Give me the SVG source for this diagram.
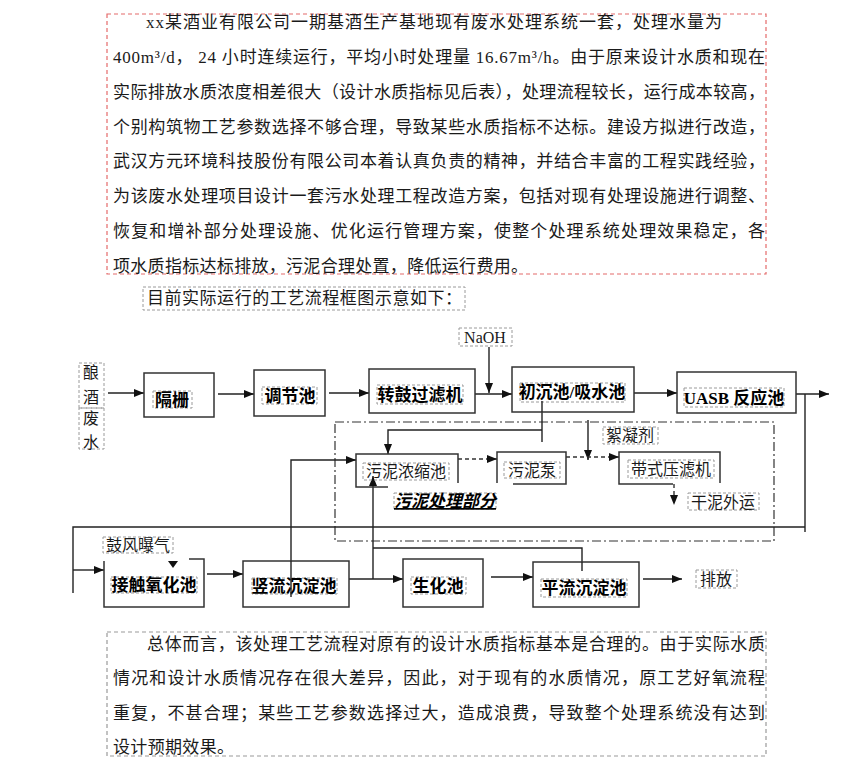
<svg xmlns="http://www.w3.org/2000/svg" width="841" height="761" viewBox="0 0 841 761">
<style>
.bg{fill:#fff}
.body{font-family:"Liberation Serif","Noto Sans CJK SC",serif;font-size:17px;fill:#1a1a1a}
.lbl{font-family:"Liberation Serif","Noto Sans CJK SC",serif;font-size:16px;fill:#1a1a1a;text-anchor:middle}
.nb{font-family:"Liberation Serif","Noto Sans CJK SC",serif;font-size:17px;font-weight:bold;fill:#000;text-anchor:middle}
.box{fill:#fff;stroke:#333;stroke-width:1.5}
.edge{fill:none;stroke:#333;stroke-width:1.5}
.tb{fill:none;stroke:#9a9a9a;stroke-width:1;stroke-dasharray:3,2}
.red{fill:none;stroke:#e46a6a;stroke-width:1.2;stroke-dasharray:4,3}
.gray{fill:none;stroke:#9a9a9a;stroke-width:1.2;stroke-dasharray:4,3}
.ln{fill:none;stroke:#222;stroke-width:1.4}
.arr{fill:none;stroke:#222;stroke-width:1.4;marker-end:url(#ah)}
.darr{fill:none;stroke:#333;stroke-width:1.4;stroke-dasharray:4,3;marker-end:url(#ah)}
.dd{fill:none;stroke:#333;stroke-width:1.2;stroke-dasharray:9,3,2,3}
</style>
<defs>
<marker id="ah" viewBox="0 0 10 10" refX="10" refY="5" markerWidth="10" markerHeight="10" markerUnits="userSpaceOnUse" orient="auto"><path d="M0,1 L10,5 L0,9 z" fill="#111"/></marker>
</defs>
<rect class="bg" x="0" y="0" width="841" height="761"/>

<g id="intro">
<rect class="red" x="107" y="14" width="659" height="260"/>
<text class="body" x="146" y="28" textLength="576" lengthAdjust="spacing">xx某酒业有限公司一期基酒生产基地现有废水处理系统一套，处理水量为</text>
<text class="body" x="113" y="63" textLength="652" lengthAdjust="spacing">400m³/d， 24 小时连续运行，平均小时处理量 16.67m³/h。由于原来设计水质和现在</text>
<text class="body" x="113" y="98" textLength="652" lengthAdjust="spacing">实际排放水质浓度相差很大（设计水质指标见后表），处理流程较长，运行成本较高，</text>
<text class="body" x="113" y="133" textLength="652" lengthAdjust="spacing">个别构筑物工艺参数选择不够合理，导致某些水质指标不达标。建设方拟进行改造，</text>
<text class="body" x="113" y="167" textLength="652" lengthAdjust="spacing">武汉方元环境科技股份有限公司本着认真负责的精神，并结合丰富的工程实践经验，</text>
<text class="body" x="113" y="202" textLength="652" lengthAdjust="spacing">为该废水处理项目设计一套污水处理工程改造方案，包括对现有处理设施进行调整、</text>
<text class="body" x="113" y="237" textLength="652" lengthAdjust="spacing">恢复和增补部分处理设施、优化运行管理方案，使整个处理系统处理效果稳定，各</text>
<text class="body" x="113" y="272" textLength="415" lengthAdjust="spacing">项水质指标达标排放，污泥合理处置，降低运行费用。</text>
</g>

<g id="caption">
<rect class="tb" x="143" y="287" width="322" height="23"/>
<text class="body" x="147" y="304" textLength="315" lengthAdjust="spacing">目前实际运行的工艺流程框图示意如下：</text>
</g>

<g id="sludge-area">
<rect class="dd" x="335" y="422" width="439" height="119"/>
</g>

<g id="connectors">
<line class="arr" x1="108" y1="393" x2="144" y2="393"/>
<line class="arr" x1="218" y1="394" x2="254" y2="394"/>
<line class="arr" x1="329" y1="393" x2="369" y2="393"/>
<line class="arr" x1="475" y1="394" x2="512" y2="394"/>
<line class="arr" x1="489" y1="347" x2="489" y2="393"/>
<line class="arr" x1="634" y1="393" x2="677" y2="393"/>
<line class="arr" x1="796" y1="394" x2="829" y2="394"/>
<polyline class="ln" points="805,394 805,532"/>
<polyline class="ln" points="805,527 73,527 73,593"/>
<line class="arr" x1="73" y1="570" x2="104" y2="570"/>
<line class="arr" x1="207" y1="574" x2="243" y2="574"/>
<polyline class="arr" points="291,597 291,460 356,460"/>
<line class="arr" x1="349" y1="579" x2="403" y2="579"/>
<polyline class="arr" points="373,579 373,476"/>
<polyline class="ln" points="373,548 582,548 582,571"/>
<line class="ln" x1="542" y1="401" x2="542" y2="442"/>
<polyline class="arr" points="542,430 388,430 388,454"/>
<line class="arr" x1="588" y1="420" x2="588" y2="460"/>
<line class="darr" x1="458" y1="459" x2="497" y2="459"/>
<line class="darr" x1="566" y1="457" x2="619" y2="457"/>
<line class="darr" x1="674" y1="484" x2="674" y2="505"/>
<line class="arr" x1="491" y1="577" x2="533" y2="577"/>
<line class="arr" x1="643" y1="579" x2="682" y2="579"/>
<path d="M168,561 L178,561 L173,568 z" fill="#111"/>
</g>

<g id="n-source">
<rect class="tb" x="79" y="363" width="25" height="45"/>
<rect class="tb" x="79" y="408" width="25" height="41"/>
<text class="lbl" x="91" y="378" font-size="17">酿</text>
<text class="lbl" x="91" y="403" font-size="17">酒</text>
<text class="lbl" x="91" y="424" font-size="17">废</text>
<text class="lbl" x="91" y="448" font-size="17">水</text>
</g>

<g id="n-geshan">
<rect class="box" x="144" y="373" width="70" height="44"/>
<rect class="tb" x="153" y="391" width="39" height="17"/>
<text class="nb" x="172" y="406">隔栅</text>
</g>

<g id="n-tiaojie">
<rect class="box" x="254" y="370" width="71" height="46"/>
<rect class="tb" x="262" y="387" width="55" height="17"/>
<text class="nb" x="290" y="402">调节池</text>
</g>

<g id="n-zhuangu">
<rect class="box" x="369" y="369" width="106" height="44"/>
<rect class="tb" x="377" y="385" width="86" height="19"/>
<text class="nb" x="420" y="401">转鼓过滤机</text>
</g>

<g id="n-naoh">
<rect class="tb" x="459" y="328" width="53" height="18"/>
<text class="lbl" x="485" y="343">NaOH</text>
</g>

<g id="n-chuchen">
<rect class="box" x="512" y="367" width="122" height="45"/>
<rect class="tb" x="520" y="383" width="105" height="19"/>
<text class="nb" x="572" y="398">初沉池/吸水池</text>
<line class="ln" x1="542" y1="401" x2="542" y2="412"/>
</g>

<g id="n-uasb">
<rect class="box" x="677" y="372" width="119" height="41"/>
<rect class="tb" x="684" y="388" width="100" height="19"/>
<text class="nb" x="734" y="404">UASB 反应池</text>
</g>

<g id="n-nongsuo">
<path class="edge" d="M388,487 L356,487 L356,454 L458,454 L458,483"/>
<rect class="tb" x="363" y="463" width="86" height="17"/>
<text class="lbl" x="406" y="477" font-size="17">污泥浓缩池</text>
</g>

<g id="n-beng">
<path class="edge" d="M497,483 L497,452 L566,452 L566,484 L513,484"/>
<rect class="tb" x="504" y="462" width="56" height="16"/>
<text class="lbl" x="532" y="476" font-size="17">污泥泵</text>
</g>

<g id="n-yalv">
<path class="edge" d="M673,484 L619,484 L619,452 L720,452 L720,483"/>
<rect class="tb" x="628" y="460" width="86" height="18"/>
<text class="lbl" x="671" y="475" font-size="17">带式压滤机</text>
</g>

<g id="n-xuning">
<rect class="tb" x="603" y="427" width="55" height="17"/>
<text class="lbl" x="630" y="441" font-size="17">絮凝剂</text>
</g>

<g id="n-ganni">
<rect class="tb" x="688" y="493" width="71" height="17"/>
<text class="lbl" x="723" y="508" font-size="17">干泥外运</text>
</g>

<g id="n-sludge-label">
<rect class="tb" x="394" y="493" width="102" height="16"/>
<text class="nb" x="445" y="507" font-style="italic" text-decoration="underline" font-size="16">污泥处理部分</text>
</g>

<g id="n-gufeng">
<rect class="tb" x="103" y="537" width="70" height="16"/>
<text class="lbl" x="138" y="551" font-size="17">鼓风曝气</text>
</g>

<g id="n-jiechu">
<path class="edge" d="M189,559 L204,559 L204,607 L104,607 L104,561"/>
<rect class="tb" x="111" y="577" width="86" height="16"/>
<text class="nb" x="154" y="591">接触氧化池</text>
</g>

<g id="n-shuliu">
<rect class="box" x="243" y="561" width="106" height="46"/>
<rect class="tb" x="252" y="578" width="85" height="16"/>
<text class="nb" x="294" y="592">竖流沉淀池</text>
<line class="ln" x1="291" y1="561" x2="291" y2="597"/>
</g>

<g id="n-shenghua">
<rect class="box" x="403" y="559" width="80" height="48"/>
<rect class="tb" x="411" y="577" width="55" height="17"/>
<text class="nb" x="438" y="592">生化池</text>
</g>

<g id="n-pingliu">
<rect class="box" x="533" y="562" width="106" height="45"/>
<rect class="tb" x="541" y="579" width="86" height="18"/>
<text class="nb" x="584" y="594">平流沉淀池</text>
<line class="ln" x1="582" y1="562" x2="582" y2="571"/>
</g>

<g id="n-paifang">
<rect class="tb" x="696" y="570" width="41" height="18"/>
<text class="lbl" x="716" y="585" font-size="17">排放</text>
</g>

<g id="summary">
<rect class="gray" x="107" y="632" width="659" height="124"/>
<text class="body" x="147" y="650" textLength="618" lengthAdjust="spacing">总体而言，该处理工艺流程对原有的设计水质指标基本是合理的。由于实际水质</text>
<text class="body" x="113" y="684" textLength="652" lengthAdjust="spacing">情况和设计水质情况存在很大差异，因此，对于现有的水质情况，原工艺好氧流程</text>
<text class="body" x="113" y="719" textLength="652" lengthAdjust="spacing">重复，不甚合理；某些工艺参数选择过大，造成浪费，导致整个处理系统没有达到</text>
<text class="body" x="113" y="753" textLength="121" lengthAdjust="spacing">设计预期效果。</text>
</g>
</svg>
